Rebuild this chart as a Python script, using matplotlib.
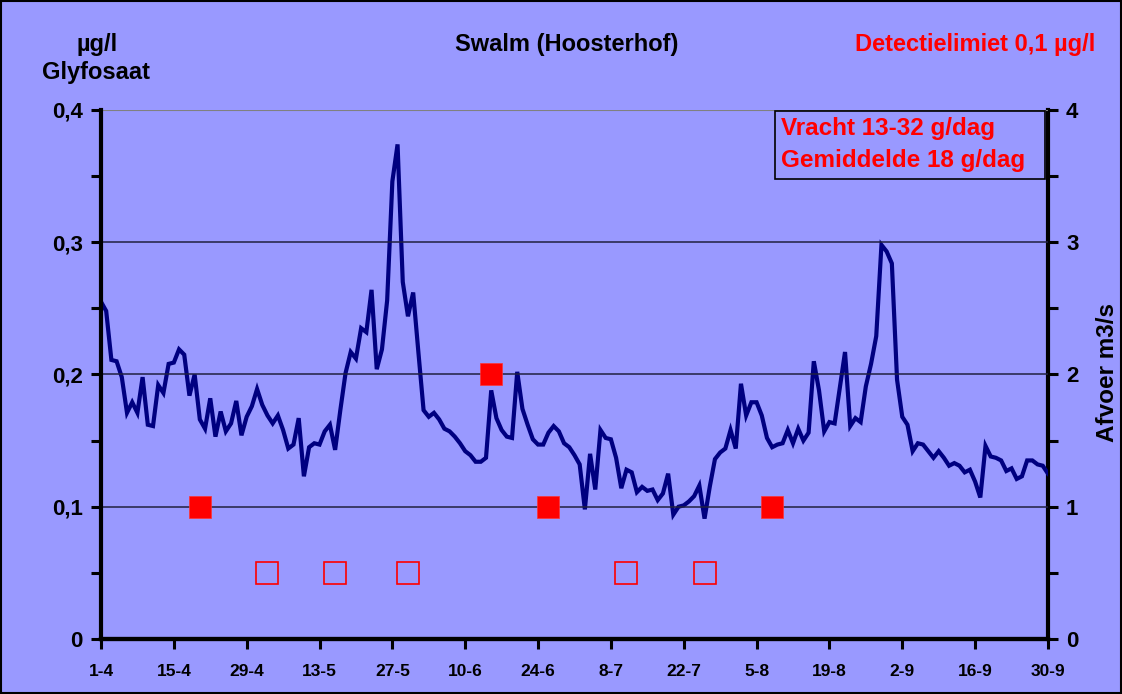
import matplotlib
matplotlib.use('Agg')
import matplotlib.pyplot as plt
from matplotlib.patches import Rectangle
import numpy as np

# afvoer (m3/s), one value per day from 1-4 to 30-9
afvoer = [
    2.55, 2.48, 2.11, 2.10, 1.98, 1.71, 1.79, 1.71, 1.98, 1.62,
    1.61, 1.92, 1.86, 2.08, 2.09, 2.19, 2.15, 1.84, 2.00, 1.66,
    1.59, 1.82, 1.53, 1.72, 1.57, 1.63, 1.80, 1.54, 1.68, 1.76,
    1.89, 1.77, 1.69, 1.63, 1.69, 1.58, 1.44, 1.47, 1.67, 1.23,
    1.45, 1.48, 1.47, 1.57, 1.62, 1.43, 1.73, 2.01, 2.17, 2.12,
    2.35, 2.32, 2.64, 2.04, 2.19, 2.56, 3.46, 3.74, 2.70, 2.44,
    2.62, 2.17, 1.73, 1.68, 1.71, 1.66, 1.59, 1.57, 1.53, 1.48,
    1.42, 1.39, 1.34, 1.34, 1.37, 1.88, 1.67, 1.58, 1.53, 1.52,
    2.02, 1.74, 1.62, 1.51, 1.47, 1.47, 1.56, 1.61, 1.57, 1.48,
    1.45, 1.39, 1.32, 0.98, 1.40, 1.13, 1.58, 1.52, 1.51, 1.37,
    1.14, 1.28, 1.26, 1.11, 1.15, 1.12, 1.13, 1.05, 1.10, 1.25,
    0.94, 1.00, 1.01, 1.04, 1.08, 1.16, 0.91, 1.15, 1.36, 1.41,
    1.44, 1.58, 1.44, 1.93, 1.69, 1.79, 1.79, 1.69, 1.52, 1.45,
    1.47, 1.48, 1.58, 1.48, 1.59, 1.50, 1.56, 2.10, 1.88, 1.57,
    1.64, 1.63, 1.90, 2.17, 1.61, 1.67, 1.64, 1.91, 2.08, 2.29,
    2.98, 2.93, 2.84, 1.96, 1.68, 1.62, 1.42, 1.48, 1.47, 1.42,
    1.37, 1.42, 1.37, 1.31, 1.33, 1.31, 1.26, 1.28, 1.19, 1.07,
    1.46, 1.38, 1.37, 1.35, 1.27, 1.29, 1.21, 1.23, 1.35, 1.35,
    1.32, 1.31, 1.25,
]
days = np.arange(len(afvoer))

# glyfosaat metingen (day index since 1-4, ug/l)
meting_dag = [19, 75, 86, 129]
meting_conc = [0.1, 0.2, 0.1, 0.1]
# onder detectielimiet, plotted at half the limit
onder_dag = [32, 45, 59, 101, 116]
onder_conc = [0.05, 0.05, 0.05, 0.05, 0.05]

tick_days = [0, 14, 28, 42, 56, 70, 84, 98, 112, 126, 140, 154, 168, 182]
tick_labels = ['1-4', '15-4', '29-4', '13-5', '27-5', '10-6', '24-6',
               '8-7', '22-7', '5-8', '19-8', '2-9', '16-9', '30-9']

bg = '#9999FF'
navy = '#000080'
red = '#FF0000'

plt.rcParams['font.family'] = ['Liberation Sans', 'DejaVu Sans']
plt.rcParams['font.weight'] = 'bold'

fig = plt.figure(figsize=(11.22, 6.94), dpi=100, facecolor=bg)
ax = fig.add_axes([0.090, 0.0793, 0.844, 0.7622])
ax2 = ax.twinx()

# grid lines
for v in [0.1, 0.2, 0.3]:
    ax.axhline(v, color='#202040', lw=1.1, zorder=1)
ax.axhline(0.4, color='#808080', lw=1.5, zorder=1)

ax2.plot(days, afvoer, color=navy, lw=3.0, solid_joinstyle='miter', zorder=3)
ax2.set_ylim(0, 4)

ax.plot(meting_dag, meting_conc, 's', ms=16, color=red, mec='#FF3333', mew=0.5, zorder=5)
ax.plot(onder_dag, onder_conc, 's', ms=15.5, mfc='none', mec=red, mew=1.2, zorder=5)
ax.set_zorder(ax2.get_zorder() + 1)
ax.patch.set_visible(False)
ax2.patch.set_facecolor(bg)

ax.set_xlim(0, 182)
ax.set_ylim(0, 0.4)

ax.set_yticks([0, 0.1, 0.2, 0.3, 0.4])
ax.set_yticklabels(['0', '0,1', '0,2', '0,3', '0,4'], fontsize=16, fontweight='bold')
ax.set_yticks(np.arange(0, 0.41, 0.05), minor=True)
ax2.set_yticks([0, 1, 2, 3, 4])
ax2.set_yticklabels(['0', '1', '2', '3', '4'], fontsize=16, fontweight='bold')
ax2.set_yticks(np.arange(0, 4.01, 0.5), minor=True)

ax.set_xticks(tick_days)
ax.set_xticklabels(tick_labels, fontsize=12.5, fontweight='bold')

for a in (ax, ax2):
    a.tick_params(axis='both', which='both', direction='out', length=7, width=2.2, color='black', pad=6)
    a.spines['top'].set_visible(False)
    for s in ('left', 'right', 'bottom'):
        a.spines[s].set_linewidth(3)
        a.spines[s].set_color('black')
ax.tick_params(axis='x', pad=11)
ax2.spines['left'].set_visible(False)
ax.spines['right'].set_visible(False)

# titles
fig.text(97 / 1122, 1 - 45 / 694, 'µg/l', ha='center', va='center', fontsize=17, fontweight='bold')
fig.text(96 / 1122, 1 - 73 / 694, 'Glyfosaat', ha='center', va='center', fontsize=17, fontweight='bold')
fig.text(567 / 1122, 1 - 45 / 694, 'Swalm (Hoosterhof)', ha='center', va='center', fontsize=17, fontweight='bold')
fig.text(1095 / 1122, 1 - 45 / 694, 'Detectielimiet 0,1 µg/l', ha='right', va='center', fontsize=17,
         fontweight='bold', color=red)
fig.text(1107 / 1122, 1 - 373 / 694, 'Afvoer m3/s', ha='center', va='center', rotation=90,
         fontsize=17.5, fontweight='bold')

# load box
fig.patches.append(Rectangle((775 / 1122, 1 - 179 / 694), 270 / 1122, 68 / 694, transform=fig.transFigure,
                             fill=False, edgecolor='black', lw=1.2, zorder=10))
fig.text(781 / 1122, 1 - 129 / 694, 'Vracht 13-32 g/dag', ha='left', va='center', fontsize=17.5,
         fontweight='bold', color=red)
fig.text(781 / 1122, 1 - 160 / 694, 'Gemiddelde 18 g/dag', ha='left', va='center', fontsize=17.5,
         fontweight='bold', color=red)

# outer border
fig.patches.append(Rectangle((0.001, 0.001), 0.998, 0.998, transform=fig.transFigure,
                             fill=False, edgecolor='black', lw=1.5))

plt.savefig('out.png', dpi=100, facecolor=bg)
